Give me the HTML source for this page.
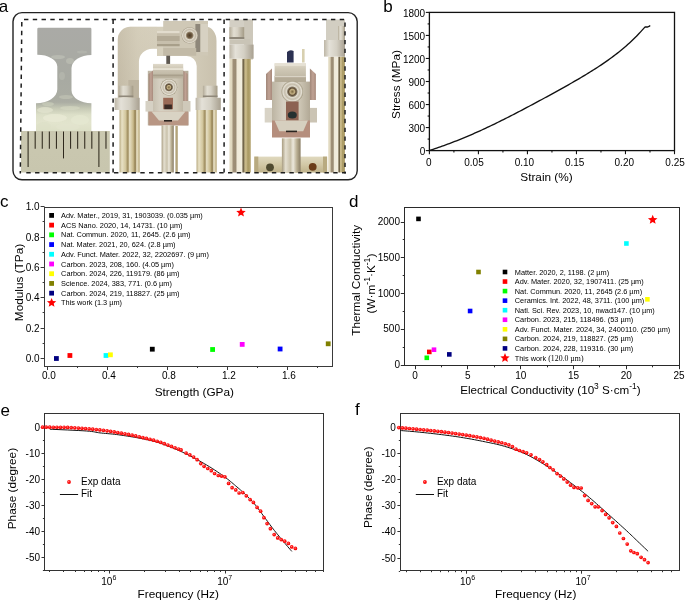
<!DOCTYPE html>
<html><head><meta charset="utf-8"><title>Figure</title>
<style>
html,body{margin:0;padding:0;background:#fff;}
body{width:685px;height:601px;overflow:hidden;}
svg{display:block;font-family:"Liberation Sans", sans-serif;will-change:transform;}
text{fill:#000;}
</style></head>
<body>
<svg width="685" height="601" viewBox="0 0 685 601">
<rect width="685" height="601" fill="#fff"/>
<defs><radialGradient id="dotg" cx="0.42" cy="0.4" r="0.6"><stop offset="0" stop-color="#ff8a8a"/><stop offset="0.45" stop-color="#ff1414"/><stop offset="1" stop-color="#f60000"/></radialGradient></defs>
<defs><linearGradient id="spec" x1="0" y1="0" x2="0" y2="1"><stop offset="0" stop-color="#aaaaa6"/><stop offset="0.5" stop-color="#a8aaa2"/><stop offset="0.72" stop-color="#abada3"/><stop offset="0.78" stop-color="#c6c9b5"/><stop offset="0.84" stop-color="#dcdfc8"/><stop offset="0.92" stop-color="#e2e4cd"/><stop offset="1" stop-color="#dcdfc6"/></linearGradient><linearGradient id="ruler" x1="0" y1="0" x2="0" y2="1"><stop offset="0" stop-color="#cac8b0"/><stop offset="1" stop-color="#c8c6ae"/></linearGradient><linearGradient id="arch" x1="0" y1="0" x2="1" y2="0"><stop offset="0" stop-color="#c4bba6"/><stop offset="0.2" stop-color="#d4cdb9"/><stop offset="0.6" stop-color="#d8d2c0"/><stop offset="1" stop-color="#c9c1ad"/></linearGradient><linearGradient id="archV" x1="0" y1="0" x2="0" y2="1"><stop offset="0" stop-color="#d5cebc"/><stop offset="1" stop-color="#c0b7a3"/></linearGradient><linearGradient id="rodL" x1="0" y1="0" x2="1" y2="0"><stop offset="0" stop-color="#b8aa80"/><stop offset="0.12" stop-color="#e8e1c6"/><stop offset="0.3" stop-color="#d3c79e"/><stop offset="0.42" stop-color="#9c8a5c"/><stop offset="0.5" stop-color="#e6dfc4"/><stop offset="0.68" stop-color="#c8b98a"/><stop offset="0.78" stop-color="#8f7c4e"/><stop offset="0.86" stop-color="#ede6cc"/><stop offset="1" stop-color="#b5a473"/></linearGradient><linearGradient id="rodC" x1="0" y1="0" x2="1" y2="0"><stop offset="0" stop-color="#a89c80"/><stop offset="0.2" stop-color="#e4dfd0"/><stop offset="0.45" stop-color="#c9c1aa"/><stop offset="0.6" stop-color="#ece8dc"/><stop offset="0.8" stop-color="#b9ae92"/><stop offset="1" stop-color="#8a7e66"/></linearGradient><linearGradient id="rod3" x1="0" y1="0" x2="1" y2="0"><stop offset="0" stop-color="#e6dfc8"/><stop offset="0.12" stop-color="#ded6bd"/><stop offset="0.17" stop-color="#a09078"/><stop offset="0.3" stop-color="#9a8c74"/><stop offset="0.36" stop-color="#efe9d8"/><stop offset="0.58" stop-color="#f2eee0"/><stop offset="0.63" stop-color="#7a6c50"/><stop offset="0.68" stop-color="#6e6248"/><stop offset="0.72" stop-color="#cbbc8c"/><stop offset="0.82" stop-color="#c0b080"/><stop offset="0.86" stop-color="#a89860"/><stop offset="1" stop-color="#b8a878"/></linearGradient><linearGradient id="cap" x1="0" y1="0" x2="1" y2="0"><stop offset="0" stop-color="#b3ab98"/><stop offset="0.3" stop-color="#e2ded2"/><stop offset="0.55" stop-color="#d6d1c4"/><stop offset="1" stop-color="#a49b86"/></linearGradient><linearGradient id="collar" x1="0" y1="0" x2="1" y2="0"><stop offset="0" stop-color="#bdb6a6"/><stop offset="0.25" stop-color="#e4e1d8"/><stop offset="0.6" stop-color="#d4d0c4"/><stop offset="1" stop-color="#a8a090"/></linearGradient><linearGradient id="copper" x1="0" y1="0" x2="1" y2="0"><stop offset="0" stop-color="#a08678"/><stop offset="0.5" stop-color="#c0a294"/><stop offset="1" stop-color="#a88a7c"/></linearGradient><linearGradient id="clampTop" x1="0" y1="0" x2="0" y2="1"><stop offset="0" stop-color="#e0dacb"/><stop offset="0.3" stop-color="#cfc8b6"/><stop offset="1" stop-color="#b8b09c"/></linearGradient><linearGradient id="body" x1="0" y1="0" x2="1" y2="0"><stop offset="0" stop-color="#bcb4a2"/><stop offset="0.3" stop-color="#d6d0c2"/><stop offset="0.7" stop-color="#d0c9b8"/><stop offset="1" stop-color="#b2a996"/></linearGradient><linearGradient id="bar" x1="0" y1="0" x2="0" y2="1"><stop offset="0" stop-color="#e0d9bf"/><stop offset="0.5" stop-color="#d2c8a6"/><stop offset="1" stop-color="#bfb28a"/></linearGradient><radialGradient id="screw" cx="0.5" cy="0.5" r="0.5"><stop offset="0" stop-color="#4a3a28"/><stop offset="0.3" stop-color="#6e5a40"/><stop offset="0.42" stop-color="#9c8e78"/><stop offset="0.52" stop-color="#e0dacb"/><stop offset="0.72" stop-color="#c5bcaa"/><stop offset="0.88" stop-color="#ddd7c9"/><stop offset="1" stop-color="#a59c88"/></radialGradient><radialGradient id="screw2" cx="0.5" cy="0.5" r="0.5"><stop offset="0" stop-color="#7a6640"/><stop offset="0.22" stop-color="#c4b184"/><stop offset="0.34" stop-color="#5c4a34"/><stop offset="0.44" stop-color="#8a7e6a"/><stop offset="0.52" stop-color="#e2ddd0"/><stop offset="0.7" stop-color="#c4bcaa"/><stop offset="0.86" stop-color="#e4dfd3"/><stop offset="1" stop-color="#a0977f"/></radialGradient></defs>
<rect x="13" y="12.6" width="344.2" height="167.2" rx="9" ry="9" fill="none" stroke="#222" stroke-width="1.4"/>
<path d="M37.3,29 Q37.3,27.7 38.6,27.7 L90.1,27.7 Q91.4,27.7 91.4,29 L91.4,55 A19.9 13 0 0 0 71.5,68 L71.5,90.2 A19.9 13 0 0 0 91.4,103.2 L91.4,131.2 L36,131.2 L36,103.3 A21.3 14 0 0 0 57.3,89.3 L57.3,66.6 A20 11.9 0 0 0 37.3,54.7 Z" fill="url(#spec)"/>
<ellipse cx="45" cy="110" rx="8" ry="3" fill="#e4e6d0" opacity="0.7"/>
<ellipse cx="70" cy="108" rx="10" ry="2" fill="#d6d9c3" opacity="0.6"/>
<ellipse cx="55" cy="118" rx="12" ry="4" fill="#e8ead5" opacity="0.8"/>
<ellipse cx="80" cy="120" rx="9" ry="5" fill="#e6e8d2" opacity="0.7"/>
<ellipse cx="44" cy="126" rx="7" ry="4" fill="#dcdfc6" opacity="0.6"/>
<ellipse cx="68" cy="127" rx="12" ry="3.5" fill="#e3e5cf" opacity="0.6"/>
<ellipse cx="58" cy="57" rx="7" ry="2" fill="#bfc0b6" opacity="0.7"/>
<ellipse cx="70" cy="61" rx="4" ry="3" fill="#c2c3b8" opacity="0.6"/>
<ellipse cx="82" cy="52" rx="5" ry="1.5" fill="#b8b9b0" opacity="0.6"/>
<ellipse cx="62" cy="76" rx="3" ry="4" fill="#b9bab0" opacity="0.6"/>
<ellipse cx="66" cy="97" rx="7" ry="2" fill="#c4c6b8" opacity="0.6"/>
<ellipse cx="48" cy="104" rx="6" ry="2" fill="#cdd0bc" opacity="0.6"/>
<rect x="21" y="131" width="88.8" height="41.5" fill="url(#ruler)"/>
<line x1="28.10" y1="131.5" x2="28.10" y2="167" stroke="#2e281c" stroke-width="1.05"/>
<line x1="35.18" y1="131.5" x2="35.18" y2="148.8" stroke="#2e281c" stroke-width="1.05"/>
<line x1="42.26" y1="131.5" x2="42.26" y2="148.8" stroke="#2e281c" stroke-width="1.05"/>
<line x1="49.34" y1="131.5" x2="49.34" y2="148.8" stroke="#2e281c" stroke-width="1.05"/>
<line x1="56.42" y1="131.5" x2="56.42" y2="148.8" stroke="#2e281c" stroke-width="1.05"/>
<line x1="63.50" y1="131.5" x2="63.50" y2="158.4" stroke="#2e281c" stroke-width="1.05"/>
<line x1="70.58" y1="131.5" x2="70.58" y2="148.8" stroke="#2e281c" stroke-width="1.05"/>
<line x1="77.66" y1="131.5" x2="77.66" y2="148.8" stroke="#2e281c" stroke-width="1.05"/>
<line x1="84.74" y1="131.5" x2="84.74" y2="148.8" stroke="#2e281c" stroke-width="1.05"/>
<line x1="91.82" y1="131.5" x2="91.82" y2="148.8" stroke="#2e281c" stroke-width="1.05"/>
<line x1="98.90" y1="131.5" x2="98.90" y2="167" stroke="#2e281c" stroke-width="1.05"/>
<line x1="105.98" y1="131.5" x2="105.98" y2="148.8" stroke="#2e281c" stroke-width="1.05"/>
<path d="M117.8,100 L117.8,39.4 A12.6 12.6 0 0 1 130.4,26.8 L206,26.8 A10.5 14 0 0 1 216.5,41 L216.5,100 L196.7,100 L196.7,66 A10 10 0 0 0 186.7,56 L157,56 L157,48.7 L152.2,48.7 A13.3 13 0 0 0 138.9,61.7 L138.9,100 Z" fill="url(#arch)"/>
<path d="M117.8,39.4 A12.6 12.6 0 0 1 130.4,26.8 L157,26.8 L157,48.7 L152.2,48.7 A13.3 13 0 0 0 138.9,61.7 L138.9,100 L117.8,100 Z" fill="url(#archV)" opacity="0.3"/>
<rect x="163.2" y="20.9" width="44.8" height="34.8" fill="#cfc8b6"/>
<rect x="157" y="31" width="22.6" height="15.2" fill="#c7bfac"/>
<rect x="157" y="31" width="22.6" height="2.2" fill="#e2dccd"/>
<rect x="157" y="44" width="22.6" height="2.2" fill="#a89f8a"/>
<rect x="157" y="36" width="22.6" height="5" fill="#b3aa96"/>
<rect x="195.4" y="24" width="5.1" height="28" fill="#8e877a"/>
<rect x="200.5" y="24" width="7.5" height="28" fill="#d7d1c2"/>
<rect x="163.2" y="48" width="33" height="7.7" fill="#c2baa7"/>
<circle cx="189.7" cy="35.4" r="8.2" fill="url(#screw)"/>
<rect x="166.3" y="55.7" width="3.8" height="8.4" fill="#5e5850"/>
<rect x="147.8" y="70.8" width="40.6" height="54.6" fill="url(#body)"/>
<path d="M148.6,74 L153,70.5 L153,101 L148.6,101 Z" fill="url(#copper)"/>
<path d="M183.2,70.5 L187.6,74 L187.6,101 L183.2,101 Z" fill="url(#copper)"/>
<rect x="153" y="63.9" width="30.2" height="14.5" fill="url(#clampTop)"/>
<rect x="153" y="68.3" width="30.2" height="1.5" fill="#ece7da"/>
<rect x="153" y="74.5" width="30.2" height="1.8" fill="#a9a08c"/>
<circle cx="168.9" cy="87.3" r="8.4" fill="url(#screw2)"/>
<rect x="163.2" y="97.8" width="9.8" height="11.4" fill="#9a6a56"/>
<rect x="164.3" y="104.5" width="7.6" height="4.7" fill="#3a2a24"/>
<rect x="145.5" y="101" width="7.5" height="10.6" fill="#d6d1c4"/>
<rect x="183" y="101" width="7.5" height="10.6" fill="#cfc9ba"/>
<rect x="148.6" y="111.6" width="39.8" height="13.8" fill="#b89684"/>
<path d="M151.5,111.6 L185.5,111.6 L178,120.5 L159,120.5 Z" fill="#d9d3c4"/>
<rect x="164" y="120" width="8" height="1.6" fill="#2a2420"/>
<rect x="161.6" y="125.4" width="12.2" height="47.1" fill="url(#rodC)"/>
<rect x="175.4" y="126" width="2.4" height="46.5" fill="#b4a47a"/>
<rect x="128.4" y="80" width="10.5" height="18" fill="#bdb4a0"/>
<rect x="119.5" y="110" width="20.2" height="62.5" fill="url(#rodL)"/>
<rect x="118.7" y="85.7" width="14.6" height="12.1" fill="url(#cap)"/>
<rect x="118.7" y="95.5" width="14.6" height="1.5" fill="#8f887a"/>
<rect x="114.6" y="97.8" width="25.1" height="12.2" fill="url(#collar)"/>
<rect x="196.5" y="110" width="20.2" height="62.5" fill="url(#rodL)"/>
<rect x="202.9" y="85.7" width="14.6" height="12.1" fill="url(#cap)"/>
<rect x="202.9" y="95.5" width="14.6" height="1.5" fill="#8f887a"/>
<rect x="195.6" y="97.8" width="25.2" height="12.2" fill="url(#collar)"/>
<rect x="229.4" y="19.5" width="22.2" height="18" fill="#d3cfc4"/>
<rect x="244" y="19.5" width="9" height="40" fill="#cdc8bb"/>
<rect x="229.4" y="58.7" width="21.4" height="113.8" fill="url(#rod3)"/>
<rect x="229.4" y="27.1" width="14.8" height="12.1" fill="url(#cap)"/>
<rect x="229.4" y="37" width="14.8" height="2" fill="#8f887a"/>
<rect x="229.4" y="39.2" width="21" height="5.4" fill="#c9c4b6"/>
<rect x="229.4" y="44.6" width="24.2" height="14.1" fill="url(#collar)"/>
<rect x="326" y="19.5" width="19" height="22" fill="#d2cec2"/>
<rect x="328.2" y="56.6" width="16.8" height="115.9" fill="url(#rod3)"/>
<rect x="324" y="40" width="21" height="16.6" fill="url(#collar)"/>
<rect x="338" y="26" width="7" height="14" fill="url(#cap)"/>
<rect x="254.3" y="156.6" width="73" height="16" fill="url(#bar)"/>
<rect x="254.3" y="156.6" width="4" height="16" fill="#b8aa80"/>
<rect x="323" y="156.6" width="4" height="16" fill="#b8aa80"/>
<circle cx="270" cy="167.3" r="3.9" fill="#4f4a30"/>
<circle cx="312.7" cy="166.8" r="3.9" fill="#6b3c18"/>
<rect x="281.9" y="138.3" width="18.7" height="34.2" fill="url(#rodC)"/>
<path d="M287,52 Q290,49 293.6,51 L293.6,62.5 L287,62.5 Z" fill="#2c3152"/>
<rect x="302" y="49" width="2.6" height="13.5" fill="#d8d0b0"/>
<rect x="272" y="81.6" width="38" height="40" fill="url(#body)"/>
<path d="M266,74 L272,68.5 L272,100 L266,100 Z" fill="url(#copper)"/>
<path d="M309.9,68.5 L315.9,74 L315.9,100 L309.9,100 Z" fill="url(#copper)"/>
<rect x="274.6" y="63.3" width="31.3" height="18.7" fill="url(#clampTop)"/>
<rect x="274.6" y="63.3" width="31.3" height="2.6" fill="#e6e1d4"/>
<rect x="274.6" y="76" width="31.3" height="6" fill="#b4ab97"/>
<rect x="274.6" y="76" width="31.3" height="1.2" fill="#d9d3c5"/>
<circle cx="292.3" cy="91.7" r="10.8" fill="url(#screw2)"/>
<rect x="286" y="101.5" width="12.6" height="20" fill="#8c6252"/>
<ellipse cx="292.3" cy="115" rx="4.5" ry="3.5" fill="#243030"/>
<rect x="264.7" y="107.9" width="7.3" height="14.6" fill="#d8d3c6"/>
<rect x="310" y="107.9" width="7" height="14.6" fill="#cbc4b4"/>
<rect x="272" y="120.5" width="38" height="17" fill="#b58e7d"/>
<path d="M274.6,120.5 L307.9,120.5 L303.2,131.2 L279.3,131.2 Z" fill="#d6cfbf"/>
<rect x="286" y="130.6" width="11" height="1.6" fill="#2a2420"/>
<line x1="24" y1="19.5" x2="345.5" y2="19.5" stroke="#1e1e1e" stroke-width="1.5" stroke-dasharray="4.4 4.37"/>
<line x1="21.8" y1="22" x2="20.3" y2="173.5" stroke="#1e1e1e" stroke-width="1.5" stroke-dasharray="4.4 4.37"/>
<line x1="26.3" y1="172.8" x2="346" y2="172.8" stroke="#1e1e1e" stroke-width="1.5" stroke-dasharray="4.4 4.37"/>
<line x1="345" y1="22.4" x2="345" y2="173.5" stroke="#1e1e1e" stroke-width="1.5" stroke-dasharray="4.4 4.37"/>
<line x1="113.1" y1="19.5" x2="113.1" y2="172.5" stroke="#1e1e1e" stroke-width="1.5" stroke-dasharray="4.4 4.37"/>
<line x1="224.1" y1="19.5" x2="224.1" y2="172.5" stroke="#1e1e1e" stroke-width="1.5" stroke-dasharray="4.4 4.37"/>
<text x="-1.3" y="12.4" font-size="17" text-anchor="start" >a</text>
<rect x="429.4" y="12.4" width="245.1" height="138.2" fill="none" stroke="#111" stroke-width="1.3"/>
<line x1="425.8" y1="150.6" x2="429.4" y2="150.6" stroke="#111" stroke-width="1.1"/>
<text x="425.2" y="154.7" font-size="10" text-anchor="end" >0</text>
<line x1="427.6" y1="139.08" x2="429.4" y2="139.08" stroke="#111" stroke-width="1.1"/>
<line x1="425.8" y1="127.57" x2="429.4" y2="127.57" stroke="#111" stroke-width="1.1"/>
<text x="425.2" y="131.67" font-size="10" text-anchor="end" >300</text>
<line x1="427.6" y1="116.05" x2="429.4" y2="116.05" stroke="#111" stroke-width="1.1"/>
<line x1="425.8" y1="104.53" x2="429.4" y2="104.53" stroke="#111" stroke-width="1.1"/>
<text x="425.2" y="108.63" font-size="10" text-anchor="end" >600</text>
<line x1="427.6" y1="93.02" x2="429.4" y2="93.02" stroke="#111" stroke-width="1.1"/>
<line x1="425.8" y1="81.5" x2="429.4" y2="81.5" stroke="#111" stroke-width="1.1"/>
<text x="425.2" y="85.6" font-size="10" text-anchor="end" >900</text>
<line x1="427.6" y1="69.98" x2="429.4" y2="69.98" stroke="#111" stroke-width="1.1"/>
<line x1="425.8" y1="58.47" x2="429.4" y2="58.47" stroke="#111" stroke-width="1.1"/>
<text x="425.2" y="62.57" font-size="10" text-anchor="end" >1200</text>
<line x1="427.6" y1="46.95" x2="429.4" y2="46.95" stroke="#111" stroke-width="1.1"/>
<line x1="425.8" y1="35.43" x2="429.4" y2="35.43" stroke="#111" stroke-width="1.1"/>
<text x="425.2" y="39.53" font-size="10" text-anchor="end" >1500</text>
<line x1="427.6" y1="23.92" x2="429.4" y2="23.92" stroke="#111" stroke-width="1.1"/>
<line x1="425.8" y1="12.4" x2="429.4" y2="12.4" stroke="#111" stroke-width="1.1"/>
<text x="425.2" y="16.5" font-size="10" text-anchor="end" >1800</text>
<line x1="429.4" y1="150.6" x2="429.4" y2="154.2" stroke="#111" stroke-width="1.1"/>
<text x="428.8" y="165.8" font-size="10" text-anchor="middle" >0</text>
<line x1="453.91" y1="150.6" x2="453.91" y2="152.4" stroke="#111" stroke-width="1.1"/>
<line x1="478.42" y1="150.6" x2="478.42" y2="154.2" stroke="#111" stroke-width="1.1"/>
<text x="474" y="165.8" font-size="10" text-anchor="middle" >0.05</text>
<line x1="502.93" y1="150.6" x2="502.93" y2="152.4" stroke="#111" stroke-width="1.1"/>
<line x1="527.44" y1="150.6" x2="527.44" y2="154.2" stroke="#111" stroke-width="1.1"/>
<text x="524.4" y="165.8" font-size="10" text-anchor="middle" >0.10</text>
<line x1="551.95" y1="150.6" x2="551.95" y2="152.4" stroke="#111" stroke-width="1.1"/>
<line x1="576.46" y1="150.6" x2="576.46" y2="154.2" stroke="#111" stroke-width="1.1"/>
<text x="574.7" y="165.8" font-size="10" text-anchor="middle" >0.15</text>
<line x1="600.97" y1="150.6" x2="600.97" y2="152.4" stroke="#111" stroke-width="1.1"/>
<line x1="625.48" y1="150.6" x2="625.48" y2="154.2" stroke="#111" stroke-width="1.1"/>
<text x="624.3" y="165.8" font-size="10" text-anchor="middle" >0.20</text>
<line x1="649.99" y1="150.6" x2="649.99" y2="152.4" stroke="#111" stroke-width="1.1"/>
<line x1="674.5" y1="150.6" x2="674.5" y2="154.2" stroke="#111" stroke-width="1.1"/>
<text x="675.1" y="165.8" font-size="10" text-anchor="middle" >0.25</text>
<text x="546.5" y="180.5" font-size="11.8" text-anchor="middle" >Strain (%)</text>
<text transform="translate(399.8,84.5) rotate(-90)" font-size="11.8" text-anchor="middle">Stress (MPa)</text>
<path d="M429.5,150.5 L431.3,149.9 L433.11,149.3 L434.91,148.69 L436.72,148.08 L438.52,147.46 L440.33,146.83 L442.13,146.19 L443.93,145.54 L445.74,144.89 L447.54,144.23 L449.35,143.56 L451.15,142.88 L452.95,142.19 L454.76,141.49 L456.56,140.78 L458.37,140.07 L460.17,139.35 L461.98,138.61 L463.78,137.87 L465.58,137.12 L467.39,136.36 L469.19,135.6 L471,134.82 L472.8,134.03 L474.61,133.24 L476.41,132.44 L478.21,131.63 L480.02,130.81 L481.82,129.99 L483.63,129.16 L485.43,128.32 L487.23,127.47 L489.04,126.62 L490.84,125.76 L492.65,124.89 L494.45,124.02 L496.26,123.14 L498.06,122.25 L499.86,121.36 L501.67,120.46 L503.47,119.56 L505.28,118.65 L507.08,117.74 L508.88,116.82 L510.69,115.9 L512.49,114.98 L514.3,114.05 L516.1,113.11 L517.91,112.18 L519.71,111.23 L521.51,110.29 L523.32,109.34 L525.12,108.39 L526.93,107.44 L528.73,106.48 L530.54,105.52 L532.34,104.56 L534.14,103.6 L535.95,102.63 L537.75,101.66 L539.56,100.69 L541.36,99.72 L543.16,98.74 L544.97,97.77 L546.77,96.79 L548.58,95.8 L550.38,94.82 L552.19,93.83 L553.99,92.84 L555.79,91.85 L557.6,90.85 L559.4,89.85 L561.21,88.85 L563.01,87.85 L564.82,86.84 L566.62,85.82 L568.42,84.8 L570.23,83.78 L572.03,82.75 L573.84,81.71 L575.64,80.67 L577.44,79.62 L579.25,78.57 L581.05,77.51 L582.86,76.43 L584.66,75.35 L586.47,74.26 L588.27,73.16 L590.07,72.05 L591.88,70.93 L593.68,69.79 L595.49,68.64 L597.29,67.47 L599.09,66.29 L600.9,65.09 L602.7,63.88 L604.51,62.65 L606.31,61.39 L608.12,60.12 L609.92,58.82 L611.72,57.5 L613.53,56.15 L615.33,54.78 L617.14,53.38 L618.94,51.95 L620.75,50.49 L622.55,48.99 L624.35,47.47 L626.16,45.9 L627.96,44.3 L629.77,42.66 L631.57,40.98 L633.37,39.26 L635.18,37.49 L636.98,35.67 L638.79,33.8 L640.59,31.88 L642.4,29.91 L644.2,27.88 L645.1,27 L647.7,27 L649,26.4 L650.2,25.4" fill="none" stroke="#111" stroke-width="1.35" stroke-linejoin="round" />
<text x="383.2" y="12.3" font-size="17" text-anchor="start" >b</text>
<rect x="44.5" y="207.5" width="288" height="159" fill="none" stroke="#3a3a3a" stroke-width="1.0"/>
<line x1="40.6" y1="358.5" x2="44.6" y2="358.5" stroke="#3a3a3a" stroke-width="1.0"/>
<text x="39.6" y="361.8" font-size="10" text-anchor="end" >0.0</text>
<line x1="42.6" y1="343.5" x2="44.6" y2="343.5" stroke="#3a3a3a" stroke-width="1.0"/>
<line x1="40.6" y1="328.5" x2="44.6" y2="328.5" stroke="#3a3a3a" stroke-width="1.0"/>
<text x="39.6" y="331.5" font-size="10" text-anchor="end" >0.2</text>
<line x1="42.6" y1="312.5" x2="44.6" y2="312.5" stroke="#3a3a3a" stroke-width="1.0"/>
<line x1="40.6" y1="297.5" x2="44.6" y2="297.5" stroke="#3a3a3a" stroke-width="1.0"/>
<text x="39.6" y="301.2" font-size="10" text-anchor="end" >0.4</text>
<line x1="42.6" y1="282.5" x2="44.6" y2="282.5" stroke="#3a3a3a" stroke-width="1.0"/>
<line x1="40.6" y1="267.5" x2="44.6" y2="267.5" stroke="#3a3a3a" stroke-width="1.0"/>
<text x="39.6" y="270.9" font-size="10" text-anchor="end" >0.6</text>
<line x1="42.6" y1="252.5" x2="44.6" y2="252.5" stroke="#3a3a3a" stroke-width="1.0"/>
<line x1="40.6" y1="237.5" x2="44.6" y2="237.5" stroke="#3a3a3a" stroke-width="1.0"/>
<text x="39.6" y="240.6" font-size="10" text-anchor="end" >0.8</text>
<line x1="42.6" y1="221.5" x2="44.6" y2="221.5" stroke="#3a3a3a" stroke-width="1.0"/>
<line x1="40.6" y1="206.5" x2="44.6" y2="206.5" stroke="#3a3a3a" stroke-width="1.0"/>
<text x="39.6" y="210.3" font-size="10" text-anchor="end" >1.0</text>
<line x1="47.5" y1="366" x2="47.5" y2="370" stroke="#3a3a3a" stroke-width="1.0"/>
<text x="48.9" y="379.3" font-size="10" text-anchor="middle" >0.0</text>
<line x1="77.5" y1="366" x2="77.5" y2="368" stroke="#3a3a3a" stroke-width="1.0"/>
<line x1="107.5" y1="366" x2="107.5" y2="370" stroke="#3a3a3a" stroke-width="1.0"/>
<text x="108.9" y="379.3" font-size="10" text-anchor="middle" >0.4</text>
<line x1="137.5" y1="366" x2="137.5" y2="368" stroke="#3a3a3a" stroke-width="1.0"/>
<line x1="167.5" y1="366" x2="167.5" y2="370" stroke="#3a3a3a" stroke-width="1.0"/>
<text x="168.9" y="379.3" font-size="10" text-anchor="middle" >0.8</text>
<line x1="197.5" y1="366" x2="197.5" y2="368" stroke="#3a3a3a" stroke-width="1.0"/>
<line x1="227.5" y1="366" x2="227.5" y2="370" stroke="#3a3a3a" stroke-width="1.0"/>
<text x="228.9" y="379.3" font-size="10" text-anchor="middle" >1.2</text>
<line x1="257.5" y1="366" x2="257.5" y2="368" stroke="#3a3a3a" stroke-width="1.0"/>
<line x1="287.5" y1="366" x2="287.5" y2="370" stroke="#3a3a3a" stroke-width="1.0"/>
<text x="288.9" y="379.3" font-size="10" text-anchor="middle" >1.6</text>
<line x1="317.5" y1="366" x2="317.5" y2="368" stroke="#3a3a3a" stroke-width="1.0"/>
<text x="194.3" y="395.5" font-size="11.8" text-anchor="middle" >Strength (GPa)</text>
<text transform="translate(22.6,282.5) rotate(-90)" font-size="11.8" text-anchor="middle">Modulus (TPa)</text>
<rect x="149.9" y="346.8" width="4.8" height="4.8" fill="#000000"/>
<rect x="67.5" y="353.1" width="4.8" height="4.8" fill="#ff0000"/>
<rect x="210.2" y="347.1" width="4.8" height="4.8" fill="#00ff00"/>
<rect x="277.7" y="346.6" width="4.8" height="4.8" fill="#0000ff"/>
<rect x="103.6" y="353.1" width="4.8" height="4.8" fill="#00ffff"/>
<rect x="239.8" y="342" width="4.8" height="4.8" fill="#ff00ff"/>
<rect x="108" y="352.4" width="4.8" height="4.8" fill="#ffff00"/>
<rect x="325.8" y="341.4" width="4.8" height="4.8" fill="#808000"/>
<rect x="54" y="356.1" width="4.8" height="4.8" fill="#000080"/>
<path d="M241,207.5 L242.32,210.68 L245.76,210.95 L243.14,213.2 L243.94,216.55 L241,214.75 L238.06,216.55 L238.86,213.2 L236.24,210.95 L239.68,210.68Z" fill="#ff0000"/>
<rect x="49.2" y="213" width="4.8" height="4.8" fill="#000000"/>
<text x="61.1" y="218" font-size="7.35" text-anchor="start" >Adv. Mater., 2019, 31, 1903039. (0.035 µm)</text>
<rect x="49.2" y="222.72" width="4.8" height="4.8" fill="#ff0000"/>
<text x="61.1" y="227.72" font-size="7.35" text-anchor="start" >ACS Nano. 2020, 14, 14731. (10 µm)</text>
<rect x="49.2" y="232.44" width="4.8" height="4.8" fill="#00ff00"/>
<text x="61.1" y="237.44" font-size="7.35" text-anchor="start" >Nat. Commun. 2020, 11, 2645. (2.6 µm)</text>
<rect x="49.2" y="242.16" width="4.8" height="4.8" fill="#0000ff"/>
<text x="61.1" y="247.16" font-size="7.35" text-anchor="start" >Nat. Mater. 2021, 20, 624. (2.8 µm)</text>
<rect x="49.2" y="251.88" width="4.8" height="4.8" fill="#00ffff"/>
<text x="61.1" y="256.88" font-size="7.35" text-anchor="start" >Adv. Funct. Mater. 2022, 32, 2202697. (9 µm)</text>
<rect x="49.2" y="261.6" width="4.8" height="4.8" fill="#ff00ff"/>
<text x="61.1" y="266.6" font-size="7.35" text-anchor="start" >Carbon. 2023, 208, 160. (4.05 µm)</text>
<rect x="49.2" y="271.32" width="4.8" height="4.8" fill="#ffff00"/>
<text x="61.1" y="276.32" font-size="7.35" text-anchor="start" >Carbon. 2024, 226, 119179. (86 µm)</text>
<rect x="49.2" y="281.04" width="4.8" height="4.8" fill="#808000"/>
<text x="61.1" y="286.04" font-size="7.35" text-anchor="start" >Science. 2024, 383, 771. (0.6 µm)</text>
<rect x="49.2" y="290.76" width="4.8" height="4.8" fill="#000080"/>
<text x="61.1" y="295.76" font-size="7.35" text-anchor="start" >Carbon. 2024, 219, 118827. (25 µm)</text>
<path d="M51.6,297.98 L52.9,301.1 L56.26,301.37 L53.7,303.56 L54.48,306.84 L51.6,305.08 L48.72,306.84 L49.5,303.56 L46.94,301.37 L50.3,301.1Z" fill="#ff0000"/>
<text x="61.1" y="305.48" font-size="7.35" text-anchor="start" >This work (1.3 µm)</text>
<text x="0" y="206.8" font-size="17" text-anchor="start" >c</text>
<rect x="404.5" y="207.5" width="275" height="158" fill="none" stroke="#2a2a2a" stroke-width="1.0"/>
<line x1="400.8" y1="365.5" x2="404.6" y2="365.5" stroke="#2a2a2a" stroke-width="1.0"/>
<text x="400" y="368.2" font-size="10" text-anchor="end" >0</text>
<line x1="402.7" y1="347.5" x2="404.6" y2="347.5" stroke="#2a2a2a" stroke-width="1.0"/>
<line x1="400.8" y1="329.5" x2="404.6" y2="329.5" stroke="#2a2a2a" stroke-width="1.0"/>
<text x="400" y="332.4" font-size="10" text-anchor="end" >500</text>
<line x1="402.7" y1="311.5" x2="404.6" y2="311.5" stroke="#2a2a2a" stroke-width="1.0"/>
<line x1="400.8" y1="293.5" x2="404.6" y2="293.5" stroke="#2a2a2a" stroke-width="1.0"/>
<text x="400" y="296.6" font-size="10" text-anchor="end" >1000</text>
<line x1="402.7" y1="275.5" x2="404.6" y2="275.5" stroke="#2a2a2a" stroke-width="1.0"/>
<line x1="400.8" y1="257.5" x2="404.6" y2="257.5" stroke="#2a2a2a" stroke-width="1.0"/>
<text x="400" y="260.8" font-size="10" text-anchor="end" >1500</text>
<line x1="402.7" y1="239.5" x2="404.6" y2="239.5" stroke="#2a2a2a" stroke-width="1.0"/>
<line x1="400.8" y1="222.5" x2="404.6" y2="222.5" stroke="#2a2a2a" stroke-width="1.0"/>
<text x="400" y="225" font-size="10" text-anchor="end" >2000</text>
<line x1="415.5" y1="365.4" x2="415.5" y2="369.2" stroke="#2a2a2a" stroke-width="1.0"/>
<text x="415.1" y="378.6" font-size="10" text-anchor="middle" >0</text>
<line x1="441.5" y1="365.4" x2="441.5" y2="367.3" stroke="#2a2a2a" stroke-width="1.0"/>
<line x1="467.5" y1="365.4" x2="467.5" y2="369.2" stroke="#2a2a2a" stroke-width="1.0"/>
<text x="467.9" y="378.6" font-size="10" text-anchor="middle" >5</text>
<line x1="494.5" y1="365.4" x2="494.5" y2="367.3" stroke="#2a2a2a" stroke-width="1.0"/>
<line x1="520.5" y1="365.4" x2="520.5" y2="369.2" stroke="#2a2a2a" stroke-width="1.0"/>
<text x="520.7" y="378.6" font-size="10" text-anchor="middle" >10</text>
<line x1="547.5" y1="365.4" x2="547.5" y2="367.3" stroke="#2a2a2a" stroke-width="1.0"/>
<line x1="573.5" y1="365.4" x2="573.5" y2="369.2" stroke="#2a2a2a" stroke-width="1.0"/>
<text x="573.5" y="378.6" font-size="10" text-anchor="middle" >15</text>
<line x1="599.5" y1="365.4" x2="599.5" y2="367.3" stroke="#2a2a2a" stroke-width="1.0"/>
<line x1="626.5" y1="365.4" x2="626.5" y2="369.2" stroke="#2a2a2a" stroke-width="1.0"/>
<text x="626.3" y="378.6" font-size="10" text-anchor="middle" >20</text>
<line x1="652.5" y1="365.4" x2="652.5" y2="367.3" stroke="#2a2a2a" stroke-width="1.0"/>
<line x1="679.5" y1="365.4" x2="679.5" y2="369.2" stroke="#2a2a2a" stroke-width="1.0"/>
<text x="679.1" y="378.6" font-size="10" text-anchor="middle" >25</text>
<text x="460.2" y="393.7" font-size="11.65">Electrical Conductivity (10<tspan font-size="8.4" dy="-4.6">3</tspan><tspan dy="4.6"> S·cm</tspan><tspan font-size="8.4" dy="-4.6">-1</tspan><tspan dy="4.6">)</tspan></text>
<text transform="translate(359.9,280.3) rotate(-90)" font-size="11.8" text-anchor="middle">Thermal Conductivity</text>
<text transform="translate(374.6,283.6) rotate(-90)" font-size="11.8" text-anchor="middle">(W·m<tspan font-size="8.6" dy="-4.6">-1</tspan><tspan dy="4.6">·K</tspan><tspan font-size="8.6" dy="-4.6">-1</tspan><tspan dy="4.6">)</tspan></text>
<rect x="416.2" y="216.6" width="4.6" height="4.6" fill="#000000"/>
<rect x="427" y="349.6" width="4.6" height="4.6" fill="#ff0000"/>
<rect x="424.5" y="355.5" width="4.6" height="4.6" fill="#00ff00"/>
<rect x="467.8" y="308.7" width="4.6" height="4.6" fill="#0000ff"/>
<rect x="624.1" y="241.2" width="4.6" height="4.6" fill="#00ffff"/>
<rect x="431.7" y="347.4" width="4.6" height="4.6" fill="#ff00ff"/>
<rect x="645.1" y="297" width="4.6" height="4.6" fill="#ffff00"/>
<rect x="476.2" y="269.7" width="4.6" height="4.6" fill="#808000"/>
<rect x="447" y="352.1" width="4.6" height="4.6" fill="#000080"/>
<path d="M652.7,214.7 L654.02,217.88 L657.46,218.15 L654.84,220.4 L655.64,223.75 L652.7,221.95 L649.76,223.75 L650.56,220.4 L647.94,218.15 L651.38,217.88Z" fill="#ff0000"/>
<rect x="502.7" y="269.7" width="4.6" height="4.6" fill="#000000"/>
<text x="514.8" y="274.6" font-size="7.35" text-anchor="start" >Matter. 2020, 2, 1198. (2 µm)</text>
<rect x="502.7" y="279.25" width="4.6" height="4.6" fill="#ff0000"/>
<text x="514.8" y="284.15" font-size="7.35" text-anchor="start" >Adv. Mater. 2020, 32, 1907411. (25 µm)</text>
<rect x="502.7" y="288.8" width="4.6" height="4.6" fill="#00ff00"/>
<text x="514.8" y="293.7" font-size="7.35" text-anchor="start" >Nat. Commun. 2020, 11, 2645 (2.6 µm)</text>
<rect x="502.7" y="298.35" width="4.6" height="4.6" fill="#0000ff"/>
<text x="514.8" y="303.25" font-size="7.35" text-anchor="start" >Ceramics. Int. 2022, 48, 3711. (100 µm)</text>
<rect x="502.7" y="307.9" width="4.6" height="4.6" fill="#00ffff"/>
<text x="514.8" y="312.8" font-size="7.35" text-anchor="start" >Natl. Sci. Rev. 2023, 10, nwad147. (10 µm)</text>
<rect x="502.7" y="317.45" width="4.6" height="4.6" fill="#ff00ff"/>
<text x="514.8" y="322.35" font-size="7.35" text-anchor="start" >Carbon. 2023, 215, 118496. (53 µm)</text>
<rect x="502.7" y="327" width="4.6" height="4.6" fill="#ffff00"/>
<text x="514.8" y="331.9" font-size="7.35" text-anchor="start" >Adv. Funct. Mater. 2024, 34, 2400110. (250 µm)</text>
<rect x="502.7" y="336.55" width="4.6" height="4.6" fill="#808000"/>
<text x="514.8" y="341.45" font-size="7.35" text-anchor="start" >Carbon. 2024, 219, 118827. (25 µm)</text>
<rect x="502.7" y="346.1" width="4.6" height="4.6" fill="#000080"/>
<text x="514.8" y="351" font-size="7.35" text-anchor="start" >Carbon. 2024, 228, 119316. (30 µm)</text>
<path d="M505,353.05 L506.3,356.17 L509.66,356.44 L507.1,358.63 L507.88,361.91 L505,360.15 L502.12,361.91 L502.9,358.63 L500.34,356.44 L503.7,356.17Z" fill="#ff0000"/>
<text x="514.8" y="360.55" font-size="7.35">This work <tspan font-family="Liberation Serif, serif" font-size="7.8">(120.0 µm)</tspan></text>
<text x="348.9" y="206.9" font-size="17" text-anchor="start" >d</text>
<rect x="44.5" y="413.5" width="279" height="157" fill="none" stroke="#333" stroke-width="1.0"/>
<line x1="41.5" y1="427.5" x2="44.2" y2="427.5" stroke="#333" stroke-width="1.0"/>
<text x="40" y="430.7" font-size="10" text-anchor="end" >0</text>
<line x1="42.9" y1="440.5" x2="44.2" y2="440.5" stroke="#333" stroke-width="1.0"/>
<line x1="41.5" y1="453.5" x2="44.2" y2="453.5" stroke="#333" stroke-width="1.0"/>
<text x="40" y="456.8" font-size="10" text-anchor="end" >-10</text>
<line x1="42.9" y1="466.5" x2="44.2" y2="466.5" stroke="#333" stroke-width="1.0"/>
<line x1="41.5" y1="479.5" x2="44.2" y2="479.5" stroke="#333" stroke-width="1.0"/>
<text x="40" y="482.9" font-size="10" text-anchor="end" >-20</text>
<line x1="42.9" y1="492.5" x2="44.2" y2="492.5" stroke="#333" stroke-width="1.0"/>
<line x1="41.5" y1="505.5" x2="44.2" y2="505.5" stroke="#333" stroke-width="1.0"/>
<text x="40" y="509" font-size="10" text-anchor="end" >-30</text>
<line x1="42.9" y1="518.5" x2="44.2" y2="518.5" stroke="#333" stroke-width="1.0"/>
<line x1="41.5" y1="531.5" x2="44.2" y2="531.5" stroke="#333" stroke-width="1.0"/>
<text x="40" y="535.1" font-size="10" text-anchor="end" >-40</text>
<line x1="42.9" y1="544.5" x2="44.2" y2="544.5" stroke="#333" stroke-width="1.0"/>
<line x1="41.5" y1="557.5" x2="44.2" y2="557.5" stroke="#333" stroke-width="1.0"/>
<text x="40" y="561.2" font-size="10" text-anchor="end" >-50</text>
<line x1="42.9" y1="570.5" x2="44.2" y2="570.5" stroke="#333" stroke-width="1.0"/>
<line x1="49.5" y1="570.5" x2="49.5" y2="572" stroke="#333" stroke-width="1.0"/>
<line x1="63.5" y1="570.5" x2="63.5" y2="572" stroke="#333" stroke-width="1.0"/>
<line x1="75.5" y1="570.5" x2="75.5" y2="572" stroke="#333" stroke-width="1.0"/>
<line x1="84.5" y1="570.5" x2="84.5" y2="572" stroke="#333" stroke-width="1.0"/>
<line x1="91.5" y1="570.5" x2="91.5" y2="572" stroke="#333" stroke-width="1.0"/>
<line x1="98.5" y1="570.5" x2="98.5" y2="572" stroke="#333" stroke-width="1.0"/>
<line x1="104.5" y1="570.5" x2="104.5" y2="572" stroke="#333" stroke-width="1.0"/>
<line x1="109.5" y1="570.5" x2="109.5" y2="573.5" stroke="#333" stroke-width="1.0"/>
<text x="101.3" y="584.8" font-size="10">10<tspan font-size="7" dy="-5">6</tspan></text>
<line x1="144.5" y1="570.5" x2="144.5" y2="572" stroke="#333" stroke-width="1.0"/>
<line x1="165.5" y1="570.5" x2="165.5" y2="572" stroke="#333" stroke-width="1.0"/>
<line x1="179.5" y1="570.5" x2="179.5" y2="572" stroke="#333" stroke-width="1.0"/>
<line x1="190.5" y1="570.5" x2="190.5" y2="572" stroke="#333" stroke-width="1.0"/>
<line x1="200.5" y1="570.5" x2="200.5" y2="572" stroke="#333" stroke-width="1.0"/>
<line x1="207.5" y1="570.5" x2="207.5" y2="572" stroke="#333" stroke-width="1.0"/>
<line x1="214.5" y1="570.5" x2="214.5" y2="572" stroke="#333" stroke-width="1.0"/>
<line x1="220.5" y1="570.5" x2="220.5" y2="572" stroke="#333" stroke-width="1.0"/>
<line x1="225.5" y1="570.5" x2="225.5" y2="573.5" stroke="#333" stroke-width="1.0"/>
<text x="217.2" y="584.8" font-size="10">10<tspan font-size="7" dy="-5">7</tspan></text>
<line x1="260.5" y1="570.5" x2="260.5" y2="572" stroke="#333" stroke-width="1.0"/>
<line x1="281.5" y1="570.5" x2="281.5" y2="572" stroke="#333" stroke-width="1.0"/>
<line x1="295.5" y1="570.5" x2="295.5" y2="572" stroke="#333" stroke-width="1.0"/>
<line x1="306.5" y1="570.5" x2="306.5" y2="572" stroke="#333" stroke-width="1.0"/>
<line x1="315.5" y1="570.5" x2="315.5" y2="572" stroke="#333" stroke-width="1.0"/>
<line x1="323.5" y1="570.5" x2="323.5" y2="572" stroke="#333" stroke-width="1.0"/>
<path d="M49.8,429.2 L52.81,429.34 L56.98,429.52 L61.97,429.74 L67.42,429.98 L72.97,430.24 L78.27,430.5 L82.96,430.76 L86.7,431 L89.48,431.24 L91.65,431.48 L93.36,431.73 L94.74,431.98 L95.95,432.22 L97.14,432.46 L98.44,432.69 L100,432.9 L101.76,433.09 L103.56,433.27 L105.38,433.43 L107.22,433.59 L109.07,433.75 L110.92,433.91 L112.77,434.09 L114.6,434.3 L116.42,434.53 L118.25,434.76 L120.07,435.01 L121.9,435.28 L123.72,435.55 L125.55,435.82 L127.37,436.11 L129.2,436.4 L131.02,436.69 L132.85,436.99 L134.67,437.29 L136.5,437.61 L138.32,437.93 L140.15,438.27 L141.97,438.62 L143.8,439 L145.62,439.39 L147.45,439.79 L149.28,440.2 L151.1,440.63 L152.93,441.07 L154.75,441.55 L156.58,442.06 L158.4,442.6 L160.22,443.18 L162.05,443.8 L163.88,444.44 L165.7,445.11 L167.53,445.81 L169.35,446.52 L171.18,447.26 L173,448 L174.84,448.77 L176.7,449.57 L178.57,450.39 L180.44,451.23 L182.29,452.07 L184.1,452.92 L185.88,453.77 L187.6,454.6 L189.25,455.42 L190.85,456.23 L192.39,457.03 L193.91,457.84 L195.42,458.65 L196.92,459.48 L198.45,460.33 L200,461.2 L201.58,462.09 L203.16,462.99 L204.75,463.91 L206.35,464.84 L207.95,465.8 L209.56,466.77 L211.18,467.77 L212.8,468.8 L214.45,469.87 L216.13,470.97 L217.82,472.11 L219.52,473.26 L221.2,474.43 L222.85,475.6 L224.46,476.76 L226,477.9 L227.49,479.04 L228.94,480.19 L230.35,481.34 L231.72,482.48 L233.07,483.62 L234.38,484.74 L235.65,485.83 L236.9,486.9 L238.1,487.92 L239.25,488.9 L240.36,489.86 L241.44,490.79 L242.5,491.73 L243.56,492.69 L244.62,493.67 L245.7,494.7 L246.79,495.75 L247.86,496.8 L248.93,497.85 L250,498.94 L251.08,500.06 L252.16,501.23 L253.27,502.48 L254.4,503.8 L255.56,505.22 L256.74,506.75 L257.95,508.34 L259.16,509.99 L260.38,511.66 L261.6,513.33 L262.81,514.99 L264,516.6 L265.18,518.19 L266.35,519.78 L267.52,521.37 L268.68,522.95 L269.84,524.52 L271,526.07 L272.15,527.6 L273.3,529.1 L274.45,530.56 L275.58,531.99 L276.71,533.4 L277.84,534.79 L278.97,536.16 L280.11,537.54 L281.25,538.91 L282.4,540.3 L283.62,541.77 L284.95,543.34 L286.32,544.96 L287.67,546.55 L288.95,548.05 L290.1,549.41 L291.07,550.54 L291.8,551.4" fill="none" stroke="#111" stroke-width="1.0" stroke-linejoin="round" />
<circle cx="42.6" cy="427.2" r="1.85" fill="url(#dotg)"/>
<circle cx="46.18" cy="427.2" r="1.85" fill="url(#dotg)"/>
<circle cx="49.76" cy="427.21" r="1.85" fill="url(#dotg)"/>
<circle cx="53.34" cy="427.23" r="1.85" fill="url(#dotg)"/>
<circle cx="56.92" cy="427.25" r="1.85" fill="url(#dotg)"/>
<circle cx="60.5" cy="427.28" r="1.85" fill="url(#dotg)"/>
<circle cx="64.08" cy="427.31" r="1.85" fill="url(#dotg)"/>
<circle cx="67.66" cy="427.4" r="1.85" fill="url(#dotg)"/>
<circle cx="71.24" cy="427.57" r="1.85" fill="url(#dotg)"/>
<circle cx="74.82" cy="427.79" r="1.85" fill="url(#dotg)"/>
<circle cx="78.4" cy="428.05" r="1.85" fill="url(#dotg)"/>
<circle cx="81.98" cy="428.33" r="1.85" fill="url(#dotg)"/>
<circle cx="85.56" cy="428.61" r="1.85" fill="url(#dotg)"/>
<circle cx="89.14" cy="428.89" r="1.85" fill="url(#dotg)"/>
<circle cx="92.72" cy="429.21" r="1.85" fill="url(#dotg)"/>
<circle cx="96.3" cy="429.55" r="1.85" fill="url(#dotg)"/>
<circle cx="99.88" cy="429.94" r="1.85" fill="url(#dotg)"/>
<circle cx="103.46" cy="430.35" r="1.85" fill="url(#dotg)"/>
<circle cx="107.04" cy="430.84" r="1.85" fill="url(#dotg)"/>
<circle cx="110.62" cy="431.37" r="1.85" fill="url(#dotg)"/>
<circle cx="114.2" cy="431.94" r="1.85" fill="url(#dotg)"/>
<circle cx="117.78" cy="432.52" r="1.85" fill="url(#dotg)"/>
<circle cx="121.36" cy="433.14" r="1.85" fill="url(#dotg)"/>
<circle cx="124.94" cy="433.79" r="1.85" fill="url(#dotg)"/>
<circle cx="128.52" cy="434.47" r="1.85" fill="url(#dotg)"/>
<circle cx="132.1" cy="435.18" r="1.85" fill="url(#dotg)"/>
<circle cx="135.68" cy="435.94" r="1.85" fill="url(#dotg)"/>
<circle cx="139.26" cy="436.74" r="1.85" fill="url(#dotg)"/>
<circle cx="142.84" cy="437.57" r="1.85" fill="url(#dotg)"/>
<circle cx="146.42" cy="438.43" r="1.85" fill="url(#dotg)"/>
<circle cx="150" cy="439.3" r="1.85" fill="url(#dotg)"/>
<circle cx="153.58" cy="440.22" r="1.85" fill="url(#dotg)"/>
<circle cx="157.16" cy="441.23" r="1.85" fill="url(#dotg)"/>
<circle cx="160.74" cy="442.36" r="1.85" fill="url(#dotg)"/>
<circle cx="164.32" cy="443.66" r="1.85" fill="url(#dotg)"/>
<circle cx="167.9" cy="445.05" r="1.85" fill="url(#dotg)"/>
<circle cx="171.48" cy="446.44" r="1.85" fill="url(#dotg)"/>
<circle cx="175.06" cy="447.75" r="1.85" fill="url(#dotg)"/>
<circle cx="178.64" cy="449.03" r="1.85" fill="url(#dotg)"/>
<circle cx="181.1" cy="449.9" r="1.85" fill="url(#dotg)"/>
<circle cx="186.1" cy="453.1" r="1.85" fill="url(#dotg)"/>
<circle cx="189.9" cy="454.9" r="1.85" fill="url(#dotg)"/>
<circle cx="193.6" cy="457.1" r="1.85" fill="url(#dotg)"/>
<circle cx="197.1" cy="459.7" r="1.85" fill="url(#dotg)"/>
<circle cx="200.8" cy="463.6" r="1.85" fill="url(#dotg)"/>
<circle cx="204.1" cy="466.3" r="1.85" fill="url(#dotg)"/>
<circle cx="207.8" cy="468.5" r="1.85" fill="url(#dotg)"/>
<circle cx="211.3" cy="470.7" r="1.85" fill="url(#dotg)"/>
<circle cx="214.6" cy="473.5" r="1.85" fill="url(#dotg)"/>
<circle cx="218.3" cy="475.5" r="1.85" fill="url(#dotg)"/>
<circle cx="221.6" cy="476.1" r="1.85" fill="url(#dotg)"/>
<circle cx="224.9" cy="476.8" r="1.85" fill="url(#dotg)"/>
<circle cx="228.6" cy="483.4" r="1.85" fill="url(#dotg)"/>
<circle cx="232.1" cy="487.7" r="1.85" fill="url(#dotg)"/>
<circle cx="235.8" cy="489.9" r="1.85" fill="url(#dotg)"/>
<circle cx="239.1" cy="493" r="1.85" fill="url(#dotg)"/>
<circle cx="242.8" cy="492.6" r="1.85" fill="url(#dotg)"/>
<circle cx="246.3" cy="495.8" r="1.85" fill="url(#dotg)"/>
<circle cx="250.1" cy="499.6" r="1.85" fill="url(#dotg)"/>
<circle cx="253.4" cy="502.4" r="1.85" fill="url(#dotg)"/>
<circle cx="257.1" cy="507.4" r="1.85" fill="url(#dotg)"/>
<circle cx="260.6" cy="511.2" r="1.85" fill="url(#dotg)"/>
<circle cx="263.9" cy="517.7" r="1.85" fill="url(#dotg)"/>
<circle cx="267.1" cy="523.6" r="1.85" fill="url(#dotg)"/>
<circle cx="270.4" cy="528.7" r="1.85" fill="url(#dotg)"/>
<circle cx="274.2" cy="534.6" r="1.85" fill="url(#dotg)"/>
<circle cx="277.7" cy="537.9" r="1.85" fill="url(#dotg)"/>
<circle cx="281.2" cy="539.6" r="1.85" fill="url(#dotg)"/>
<circle cx="284.7" cy="541.2" r="1.85" fill="url(#dotg)"/>
<circle cx="288.4" cy="543.4" r="1.85" fill="url(#dotg)"/>
<circle cx="291.7" cy="546.9" r="1.85" fill="url(#dotg)"/>
<circle cx="295.4" cy="548.4" r="1.85" fill="url(#dotg)"/>
<circle cx="69" cy="482" r="1.9" fill="url(#dotg)"/>
<text x="81" y="485.2" font-size="10" text-anchor="start" >Exp data</text>
<line x1="59.9" y1="494.5" x2="78.1" y2="494.5" stroke="#111" stroke-width="1.0"/>
<text x="81" y="497.3" font-size="10" text-anchor="start" >Fit</text>
<text transform="translate(15.9,488.6) rotate(-90)" font-size="11.8" text-anchor="middle">Phase (degree)</text>
<text x="178.2" y="598.2" font-size="11.8" text-anchor="middle" >Frequency (Hz)</text>
<text x="0.5" y="415.5" font-size="17" text-anchor="start" >e</text>
<rect x="400.5" y="413.5" width="279" height="157" fill="none" stroke="#333" stroke-width="1.0"/>
<line x1="397.4" y1="427.5" x2="400.1" y2="427.5" stroke="#333" stroke-width="1.0"/>
<text x="395.9" y="430.5" font-size="10" text-anchor="end" >0</text>
<line x1="398.8" y1="440.5" x2="400.1" y2="440.5" stroke="#333" stroke-width="1.0"/>
<line x1="397.4" y1="453.5" x2="400.1" y2="453.5" stroke="#333" stroke-width="1.0"/>
<text x="395.9" y="456.7" font-size="10" text-anchor="end" >-10</text>
<line x1="398.8" y1="466.5" x2="400.1" y2="466.5" stroke="#333" stroke-width="1.0"/>
<line x1="397.4" y1="479.5" x2="400.1" y2="479.5" stroke="#333" stroke-width="1.0"/>
<text x="395.9" y="482.9" font-size="10" text-anchor="end" >-20</text>
<line x1="398.8" y1="492.5" x2="400.1" y2="492.5" stroke="#333" stroke-width="1.0"/>
<line x1="397.4" y1="505.5" x2="400.1" y2="505.5" stroke="#333" stroke-width="1.0"/>
<text x="395.9" y="509.1" font-size="10" text-anchor="end" >-30</text>
<line x1="398.8" y1="518.5" x2="400.1" y2="518.5" stroke="#333" stroke-width="1.0"/>
<line x1="397.4" y1="531.5" x2="400.1" y2="531.5" stroke="#333" stroke-width="1.0"/>
<text x="395.9" y="535.3" font-size="10" text-anchor="end" >-40</text>
<line x1="398.8" y1="544.5" x2="400.1" y2="544.5" stroke="#333" stroke-width="1.0"/>
<line x1="397.4" y1="558.5" x2="400.1" y2="558.5" stroke="#333" stroke-width="1.0"/>
<text x="395.9" y="561.5" font-size="10" text-anchor="end" >-50</text>
<line x1="398.8" y1="571.5" x2="400.1" y2="571.5" stroke="#333" stroke-width="1.0"/>
<line x1="406.5" y1="570.7" x2="406.5" y2="572.2" stroke="#333" stroke-width="1.0"/>
<line x1="420.5" y1="570.7" x2="420.5" y2="572.2" stroke="#333" stroke-width="1.0"/>
<line x1="431.5" y1="570.7" x2="431.5" y2="572.2" stroke="#333" stroke-width="1.0"/>
<line x1="440.5" y1="570.7" x2="440.5" y2="572.2" stroke="#333" stroke-width="1.0"/>
<line x1="448.5" y1="570.7" x2="448.5" y2="572.2" stroke="#333" stroke-width="1.0"/>
<line x1="455.5" y1="570.7" x2="455.5" y2="572.2" stroke="#333" stroke-width="1.0"/>
<line x1="461.5" y1="570.7" x2="461.5" y2="572.2" stroke="#333" stroke-width="1.0"/>
<line x1="466.5" y1="570.7" x2="466.5" y2="573.7" stroke="#333" stroke-width="1.0"/>
<text x="460" y="584.8" font-size="10">10<tspan font-size="7" dy="-5">6</tspan></text>
<line x1="501.5" y1="570.7" x2="501.5" y2="572.2" stroke="#333" stroke-width="1.0"/>
<line x1="521.5" y1="570.7" x2="521.5" y2="572.2" stroke="#333" stroke-width="1.0"/>
<line x1="535.5" y1="570.7" x2="535.5" y2="572.2" stroke="#333" stroke-width="1.0"/>
<line x1="547.5" y1="570.7" x2="547.5" y2="572.2" stroke="#333" stroke-width="1.0"/>
<line x1="556.5" y1="570.7" x2="556.5" y2="572.2" stroke="#333" stroke-width="1.0"/>
<line x1="564.5" y1="570.7" x2="564.5" y2="572.2" stroke="#333" stroke-width="1.0"/>
<line x1="570.5" y1="570.7" x2="570.5" y2="572.2" stroke="#333" stroke-width="1.0"/>
<line x1="576.5" y1="570.7" x2="576.5" y2="572.2" stroke="#333" stroke-width="1.0"/>
<line x1="581.5" y1="570.7" x2="581.5" y2="573.7" stroke="#333" stroke-width="1.0"/>
<text x="575.5" y="584.8" font-size="10">10<tspan font-size="7" dy="-5">7</tspan></text>
<line x1="616.5" y1="570.7" x2="616.5" y2="572.2" stroke="#333" stroke-width="1.0"/>
<line x1="637.5" y1="570.7" x2="637.5" y2="572.2" stroke="#333" stroke-width="1.0"/>
<line x1="651.5" y1="570.7" x2="651.5" y2="572.2" stroke="#333" stroke-width="1.0"/>
<line x1="662.5" y1="570.7" x2="662.5" y2="572.2" stroke="#333" stroke-width="1.0"/>
<line x1="671.5" y1="570.7" x2="671.5" y2="572.2" stroke="#333" stroke-width="1.0"/>
<path d="M400.3,430.5 L401.54,430.6 L403.16,430.73 L405.08,430.88 L407.23,431.05 L409.56,431.24 L411.99,431.45 L414.46,431.67 L416.9,431.9 L419.38,432.15 L422,432.42 L424.72,432.7 L427.52,433 L430.35,433.31 L433.2,433.63 L436.03,433.96 L438.8,434.3 L441.54,434.64 L444.28,434.98 L447.01,435.34 L449.75,435.7 L452.49,436.08 L455.23,436.47 L457.96,436.87 L460.7,437.3 L463.44,437.75 L466.18,438.21 L468.91,438.68 L471.65,439.18 L474.39,439.68 L477.12,440.21 L479.86,440.75 L482.6,441.3 L485.34,441.86 L488.08,442.41 L490.81,442.97 L493.55,443.54 L496.29,444.15 L499.03,444.81 L501.76,445.52 L504.5,446.3 L507.23,447.13 L509.96,447.99 L512.68,448.89 L515.41,449.84 L518.14,450.86 L520.88,451.95 L523.63,453.13 L526.4,454.4 L529.22,455.8 L532.09,457.32 L534.98,458.94 L537.88,460.62 L540.76,462.35 L543.59,464.09 L546.34,465.82 L549,467.5 L551.55,469.14 L554,470.78 L556.39,472.41 L558.73,474.05 L561.03,475.7 L563.33,477.37 L565.65,479.07 L568,480.8 L570.38,482.56 L572.75,484.33 L575.13,486.13 L577.51,487.94 L579.88,489.79 L582.26,491.66 L584.63,493.56 L587,495.5 L589.37,497.48 L591.73,499.5 L594.09,501.56 L596.45,503.65 L598.81,505.75 L601.17,507.87 L603.53,509.99 L605.9,512.1 L608.32,514.26 L610.82,516.49 L613.35,518.75 L615.87,521.01 L618.33,523.23 L620.68,525.36 L622.89,527.36 L624.9,529.2 L626.69,530.85 L628.27,532.33 L629.71,533.69 L631.05,534.96 L632.33,536.19 L633.6,537.41 L634.91,538.67 L636.3,540 L637.84,541.47 L639.5,543.05 L641.21,544.7 L642.91,546.33 L644.52,547.87 L645.97,549.26 L647.19,550.42 L648.1,551.3" fill="none" stroke="#111" stroke-width="1.0" stroke-linejoin="round" />
<circle cx="398.8" cy="427.6" r="1.85" fill="url(#dotg)"/>
<circle cx="402.35" cy="427.9" r="1.85" fill="url(#dotg)"/>
<circle cx="405.9" cy="428.2" r="1.85" fill="url(#dotg)"/>
<circle cx="409.45" cy="428.52" r="1.85" fill="url(#dotg)"/>
<circle cx="413" cy="428.84" r="1.85" fill="url(#dotg)"/>
<circle cx="416.55" cy="429.17" r="1.85" fill="url(#dotg)"/>
<circle cx="420.1" cy="429.5" r="1.85" fill="url(#dotg)"/>
<circle cx="423.65" cy="429.84" r="1.85" fill="url(#dotg)"/>
<circle cx="427.2" cy="430.18" r="1.85" fill="url(#dotg)"/>
<circle cx="430.75" cy="430.53" r="1.85" fill="url(#dotg)"/>
<circle cx="434.3" cy="430.9" r="1.85" fill="url(#dotg)"/>
<circle cx="437.85" cy="431.29" r="1.85" fill="url(#dotg)"/>
<circle cx="441.4" cy="431.7" r="1.85" fill="url(#dotg)"/>
<circle cx="444.95" cy="432.14" r="1.85" fill="url(#dotg)"/>
<circle cx="448.5" cy="432.59" r="1.85" fill="url(#dotg)"/>
<circle cx="452.05" cy="433.07" r="1.85" fill="url(#dotg)"/>
<circle cx="455.6" cy="433.56" r="1.85" fill="url(#dotg)"/>
<circle cx="459.15" cy="434.07" r="1.85" fill="url(#dotg)"/>
<circle cx="462.7" cy="434.6" r="1.85" fill="url(#dotg)"/>
<circle cx="466.25" cy="435.13" r="1.85" fill="url(#dotg)"/>
<circle cx="469.8" cy="435.69" r="1.85" fill="url(#dotg)"/>
<circle cx="473.35" cy="436.27" r="1.85" fill="url(#dotg)"/>
<circle cx="476.9" cy="436.89" r="1.85" fill="url(#dotg)"/>
<circle cx="480.45" cy="437.56" r="1.85" fill="url(#dotg)"/>
<circle cx="484" cy="438.31" r="1.85" fill="url(#dotg)"/>
<circle cx="487.55" cy="439.21" r="1.85" fill="url(#dotg)"/>
<circle cx="491.1" cy="440.17" r="1.85" fill="url(#dotg)"/>
<circle cx="494.65" cy="441.08" r="1.85" fill="url(#dotg)"/>
<circle cx="498.2" cy="441.91" r="1.85" fill="url(#dotg)"/>
<circle cx="501.75" cy="442.76" r="1.85" fill="url(#dotg)"/>
<circle cx="505.3" cy="443.73" r="1.85" fill="url(#dotg)"/>
<circle cx="508.85" cy="444.82" r="1.85" fill="url(#dotg)"/>
<circle cx="512.4" cy="446.62" r="1.85" fill="url(#dotg)"/>
<circle cx="515.95" cy="449.16" r="1.85" fill="url(#dotg)"/>
<circle cx="519.5" cy="450.5" r="1.85" fill="url(#dotg)"/>
<circle cx="523.05" cy="451.56" r="1.85" fill="url(#dotg)"/>
<circle cx="526.6" cy="452.78" r="1.85" fill="url(#dotg)"/>
<circle cx="531" cy="454.8" r="1.85" fill="url(#dotg)"/>
<circle cx="535.7" cy="457.5" r="1.85" fill="url(#dotg)"/>
<circle cx="539.5" cy="459.5" r="1.85" fill="url(#dotg)"/>
<circle cx="542.9" cy="461.8" r="1.85" fill="url(#dotg)"/>
<circle cx="546.7" cy="464.7" r="1.85" fill="url(#dotg)"/>
<circle cx="549.9" cy="467.5" r="1.85" fill="url(#dotg)"/>
<circle cx="553.2" cy="469.8" r="1.85" fill="url(#dotg)"/>
<circle cx="557" cy="473.6" r="1.85" fill="url(#dotg)"/>
<circle cx="560.4" cy="476.1" r="1.85" fill="url(#dotg)"/>
<circle cx="563.8" cy="478.9" r="1.85" fill="url(#dotg)"/>
<circle cx="567.2" cy="482.1" r="1.85" fill="url(#dotg)"/>
<circle cx="570.6" cy="485.2" r="1.85" fill="url(#dotg)"/>
<circle cx="574" cy="487.4" r="1.85" fill="url(#dotg)"/>
<circle cx="577.8" cy="487.8" r="1.85" fill="url(#dotg)"/>
<circle cx="581.2" cy="488" r="1.85" fill="url(#dotg)"/>
<circle cx="584.7" cy="495.6" r="1.85" fill="url(#dotg)"/>
<circle cx="588.1" cy="500.4" r="1.85" fill="url(#dotg)"/>
<circle cx="591.7" cy="503.6" r="1.85" fill="url(#dotg)"/>
<circle cx="595.1" cy="506.8" r="1.85" fill="url(#dotg)"/>
<circle cx="598.3" cy="506.8" r="1.85" fill="url(#dotg)"/>
<circle cx="602.1" cy="510.6" r="1.85" fill="url(#dotg)"/>
<circle cx="605.7" cy="514.4" r="1.85" fill="url(#dotg)"/>
<circle cx="609.1" cy="517.8" r="1.85" fill="url(#dotg)"/>
<circle cx="612.7" cy="522.6" r="1.85" fill="url(#dotg)"/>
<circle cx="616.4" cy="526.4" r="1.85" fill="url(#dotg)"/>
<circle cx="619.8" cy="533" r="1.85" fill="url(#dotg)"/>
<circle cx="623.4" cy="538.5" r="1.85" fill="url(#dotg)"/>
<circle cx="627.2" cy="544.1" r="1.85" fill="url(#dotg)"/>
<circle cx="630.8" cy="550.8" r="1.85" fill="url(#dotg)"/>
<circle cx="633.9" cy="552.5" r="1.85" fill="url(#dotg)"/>
<circle cx="637.3" cy="553.7" r="1.85" fill="url(#dotg)"/>
<circle cx="641.1" cy="557.3" r="1.85" fill="url(#dotg)"/>
<circle cx="644.5" cy="559.7" r="1.85" fill="url(#dotg)"/>
<circle cx="648.1" cy="562.6" r="1.85" fill="url(#dotg)"/>
<circle cx="424.9" cy="482" r="1.9" fill="url(#dotg)"/>
<text x="436.9" y="485.2" font-size="10" text-anchor="start" >Exp data</text>
<line x1="415.8" y1="494.5" x2="434" y2="494.5" stroke="#111" stroke-width="1.0"/>
<text x="436.9" y="497.3" font-size="10" text-anchor="start" >Fit</text>
<text transform="translate(372.2,487.3) rotate(-90)" font-size="11.8" text-anchor="middle">Phase (degree)</text>
<text x="535.7" y="598.2" font-size="11.8" text-anchor="middle" >Frequency (Hz)</text>
<text x="355" y="415.3" font-size="17" text-anchor="start" >f</text>
</svg>
</body></html>
